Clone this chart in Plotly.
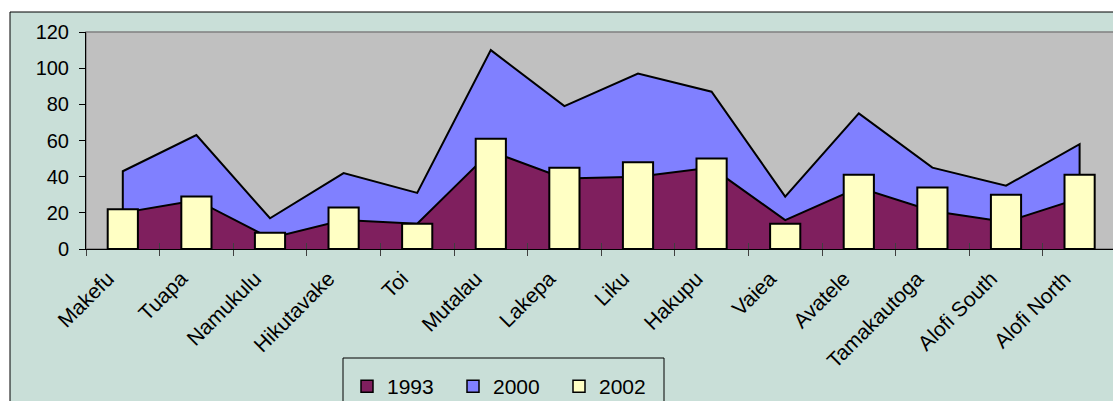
import plotly.graph_objects as go

# ---- data ----
villages = ["Makefu", "Tuapa", "Namukulu", "Hikutavake", "Toi", "Mutalau", "Lakepa",
            "Liku", "Hakupu", "Vaiea", "Avatele", "Tamakautoga", "Alofi South", "Alofi North"]
pop_1993 = [20, 27, 6, 16, 14, 54, 39, 40, 45, 16, 34, 21, 15, 28]
pop_2000 = [43, 63, 17, 42, 31, 110, 79, 97, 87, 29, 75, 45, 35, 58]
pop_2002 = [22, 29, 9, 23, 14, 61, 45, 48, 50, 14, 41, 34, 30, 41]
y_ticks = [0, 20, 40, 60, 80, 100, 120]

# ---- layout constants ----
W, H = 1113, 401
L, R, T, B = 86, 0, 32, 152
pw, ph = W - L - R, H - T - B
cat_px = 73.6
x_range = [-0.5, -0.5 + pw / cat_px]

def pxx(p):
    return (p - L) / pw

def pxy(p):
    return (H - B - p) / ph

FONT = "Arial, Liberation Sans, sans-serif"
C1993, C2000, C2002 = "#7F1F5E", "#8080FF", "#FFFFC4"

fig = go.Figure()

def edged(vals):
    return [0] + list(vals) + [0]

xs_edge = [villages[0]] + villages + [villages[-1]]

# areas (2000 behind 1993)
fig.add_trace(go.Scatter(x=xs_edge, y=edged(pop_2000), mode="lines", fill="tozeroy",
                         fillcolor=C2000, line=dict(color="black", width=2),
                         showlegend=False, hoverinfo="skip"))
fig.add_trace(go.Scatter(x=xs_edge, y=edged(pop_1993), mode="lines", fill="tozeroy",
                         fillcolor=C1993, line=dict(color="black", width=2),
                         showlegend=False, hoverinfo="skip"))

# bars on overlaying axis so they draw above the areas
fig.add_trace(go.Bar(x=villages, y=pop_2002, xaxis="x2", yaxis="y", width=0.41,
                     marker=dict(color=C2002, line=dict(color="black", width=2)),
                     showlegend=False, name="2002"))

# legend entries
for name, col in [("1993", C1993), ("2000", C2000), ("2002", C2002)]:
    fig.add_trace(go.Bar(x=[None], y=[None], xaxis="x2", yaxis="y", name=name,
                         marker=dict(color=col, line=dict(color="black", width=1.5))))

fig.update_layout(
    width=W, height=H,
    margin=dict(l=L, r=R, t=T, b=B, pad=0, autoexpand=False),
    paper_bgcolor="white",
    plot_bgcolor="rgba(0,0,0,0)",
    barmode="overlay",
    font=dict(family=FONT, color="black"),
    xaxis=dict(type="category", categoryorder="array", categoryarray=villages,
               range=x_range, showline=True, linecolor="black", linewidth=1,
               ticks="outside", ticklen=6, tickcolor="#404040", tickson="boundaries",
               tickangle=-45, tickfont=dict(family=FONT, size=21, color="black"),
               ticklabelstandoff=8, ticklabelshift=-15,
               showgrid=False, zeroline=False, automargin=False),
    xaxis2=dict(type="category", categoryorder="array", categoryarray=villages,
                range=x_range, overlaying="x", anchor="y", side="bottom",
                ticks="inside", ticklen=6, tickcolor="#404040", tickson="boundaries",
                showticklabels=False, showline=False, showgrid=False, zeroline=False),
    yaxis=dict(range=[0, 120], tickvals=y_ticks, ticks="outside", ticklen=6,
               tickcolor="black", showline=True, linecolor="black", linewidth=1,
               showgrid=False, zeroline=False,
               tickfont=dict(family=FONT, size=20, color="black"),
               ticklabelstandoff=6, automargin=False),
    legend=dict(orientation="h", x=pxx(347), xanchor="left", y=pxy(366), yanchor="top",
                font=dict(family=FONT, size=21, color="black"),
                bgcolor="rgba(0,0,0,0)", borderwidth=0,
                entrywidth=61, entrywidthmode="pixels", traceorder="normal"),
    shapes=[
        dict(type="rect", xref="paper", yref="paper", layer="below",
             x0=pxx(10), y0=pxy(12), x1=pxx(W + 30), y1=pxy(H + 30),
             fillcolor="#C9DFD8", line=dict(color="black", width=1)),
        dict(type="rect", xref="paper", yref="paper", layer="below",
             x0=0, y0=0, x1=pxx(W + 10), y1=1,
             fillcolor="#C0C0C0", line=dict(color="#808080", width=1.5)),
        dict(type="rect", xref="paper", yref="paper", layer="above",
             x0=pxx(343), y0=pxy(358), x1=pxx(664), y1=pxy(H + 30),
             fillcolor="rgba(0,0,0,0)", line=dict(color="black", width=1)),
    ],
)

fig.write_html("out.html", config={"displayModeBar": False},
               post_script="document.body.style.margin='0';")
